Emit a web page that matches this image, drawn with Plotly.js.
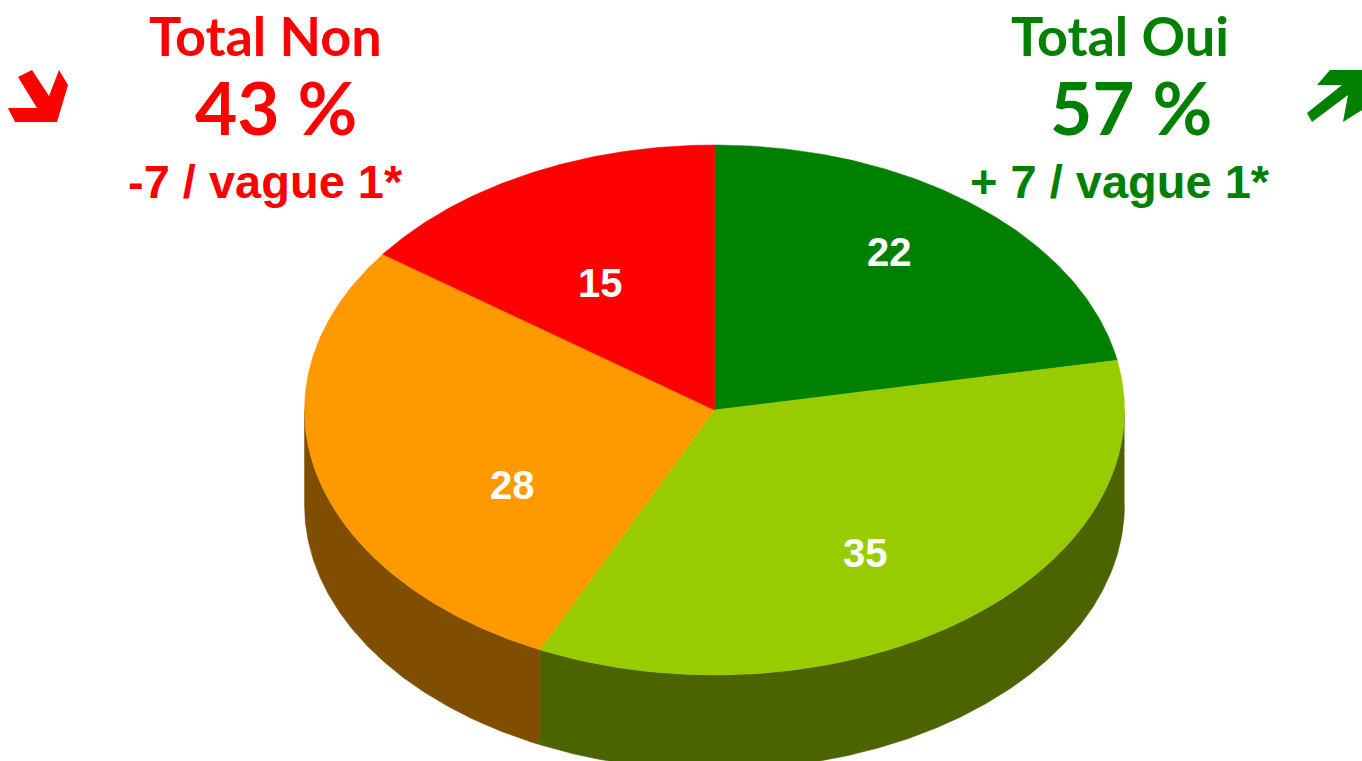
<!DOCTYPE html>
<html>
<head>
<meta charset="utf-8">
<script src="https://cdn.plot.ly/plotly-3.0.1.min.js"></script>
<style>html,body{margin:0;padding:0;background:#fff;}#chart{width:1362px;height:761px;}</style>
</head>
<body>
<div id="chart"></div>
<script>
// ---- data ----
const categories = ['Oui, tout à fait', 'Oui, plutôt', 'Non, plutôt pas', 'Non, pas du tout'];
const values = [22, 35, 28, 15];
const groupOui = [0, 1];
const groupNon = [2, 3];
const totalLabels = ['Total Non', 'Total Oui'];
const changeLabels = ['-7 / vague 1*', '+ 7 / vague 1*'];

// ---- style ----
const topColors = ['#008000', '#99CC00', '#FF9900', '#FF0000'];
const sideColors = ['#005000', '#4C6400', '#804E00', '#A00000'];
const labelNudge = [[13, -31], [-5, 13], [44, 34], [1, 19]];
const geo = {cx: 714.5, cy: 410, rx: 410, ry: 265, depth: 95, labelR: 0.62};

function pt(deg, dy) {
  const r = deg * Math.PI / 180;
  return [geo.cx + geo.rx * Math.sin(r), geo.cy - geo.ry * Math.cos(r) + (dy || 0)];
}
function arc(a0, a1, dy) {
  const n = Math.max(2, Math.ceil((a1 - a0) / 0.5));
  const xs = [], ys = [];
  for (let i = 0; i <= n; i++) {
    const p = pt(a0 + (a1 - a0) * i / n, dy);
    xs.push(p[0]); ys.push(p[1]);
  }
  return [xs, ys];
}

const total = values.reduce((s, v) => s + v, 0);
const starts = [], ends = [];
let acc = 0;
values.forEach(v => { starts.push(acc / total * 360); acc += v; ends.push(acc / total * 360); });

const traces = [];
// side walls (front half only: 90..270)
values.forEach((v, i) => {
  const a0 = Math.max(starts[i], 90), a1 = Math.min(ends[i], 270);
  if (a1 <= a0) return;
  const t = arc(a0, a1, 0), b = arc(a0, a1, geo.depth);
  traces.push({
    type: 'scatter', mode: 'lines', fill: 'toself',
    x: t[0].concat(b[0].slice().reverse()), y: t[1].concat(b[1].slice().reverse()),
    fillcolor: sideColors[i], line: {color: sideColors[i], width: 0.5},
    hoverinfo: 'skip', showlegend: false
  });
});
// top faces
values.forEach((v, i) => {
  const a = arc(starts[i], ends[i], 0);
  traces.push({
    type: 'scatter', mode: 'lines', fill: 'toself',
    x: [geo.cx].concat(a[0], [geo.cx]), y: [geo.cy].concat(a[1], [geo.cy]),
    fillcolor: topColors[i], line: {color: topColors[i], width: 0.5},
    name: categories[i], hoverinfo: 'name', showlegend: false
  });
});

const annotations = [];
values.forEach((v, i) => {
  const mid = (starts[i] + ends[i]) / 2, r = mid * Math.PI / 180;
  annotations.push({
    x: geo.cx + geo.labelR * geo.rx * Math.sin(r),
    y: geo.cy - geo.labelR * geo.ry * Math.cos(r),
    xref: 'x', yref: 'y', showarrow: false, text: String(v),
    xshift: labelNudge[i][0], yshift: -labelNudge[i][1],
    font: {family: 'Liberation Sans, Arial, sans-serif', size: 40, color: '#FFFFFF', weight: 700}
  });
});

const totNon = groupNon.reduce((s, k) => s + values[k], 0);
const totOui = groupOui.reduce((s, k) => s + values[k], 0);
const heads = [
  {cx: 265, cx2: 276, color: '#FF0000', label: totalLabels[0], val: totNon, chg: changeLabels[0]},
  {cx: 1120, cx2: 1131, color: '#008000', label: totalLabels[1], val: totOui, chg: changeLabels[1]}
];
heads.forEach(h => {
  annotations.push({x: h.cx, y: 35, xref: 'x', yref: 'y', showarrow: false, text: h.label,
    font: {family: 'Lato, sans-serif', size: 54, color: h.color, weight: 700}});
  annotations.push({x: h.cx2, y: 107, xref: 'x', yref: 'y', showarrow: false, text: h.val + ' %',
    font: {family: 'Lato, sans-serif', size: 73, color: h.color, weight: 700}});
  annotations.push({x: h.cx, y: 181, xref: 'x', yref: 'y', showarrow: false, text: h.chg,
    font: {family: 'Liberation Sans, Arial, sans-serif', size: 47, color: h.color, weight: 700}});
});

const shapes = [
  {type: 'path', xref: 'x', yref: 'y', line: {width: 0}, fillcolor: '#FF0000',
   path: 'M32,70 L49,96 L59,70 L68,85 L57,122 L15,122 L8,108 L37,108 L18,77 Z'},
  {type: 'path', xref: 'x', yref: 'y', line: {width: 0}, fillcolor: '#008000',
   path: 'M1317,85 L1330,70 L1365,70 L1365,108 L1343,122 L1348,95 L1312,122 L1307,113 L1342,85 Z'}
];

const layout = {
  width: 1362, height: 761,
  margin: {l: 0, r: 0, t: 0, b: 0},
  paper_bgcolor: '#FFFFFF', plot_bgcolor: '#FFFFFF',
  xaxis: {range: [0, 1362], visible: false, fixedrange: true},
  yaxis: {range: [761, 0], visible: false, fixedrange: true},
  showlegend: false,
  annotations: annotations, shapes: shapes
};
Plotly.newPlot('chart', traces, layout, {displayModeBar: false, staticPlot: true});
</script>
</body>
</html>
